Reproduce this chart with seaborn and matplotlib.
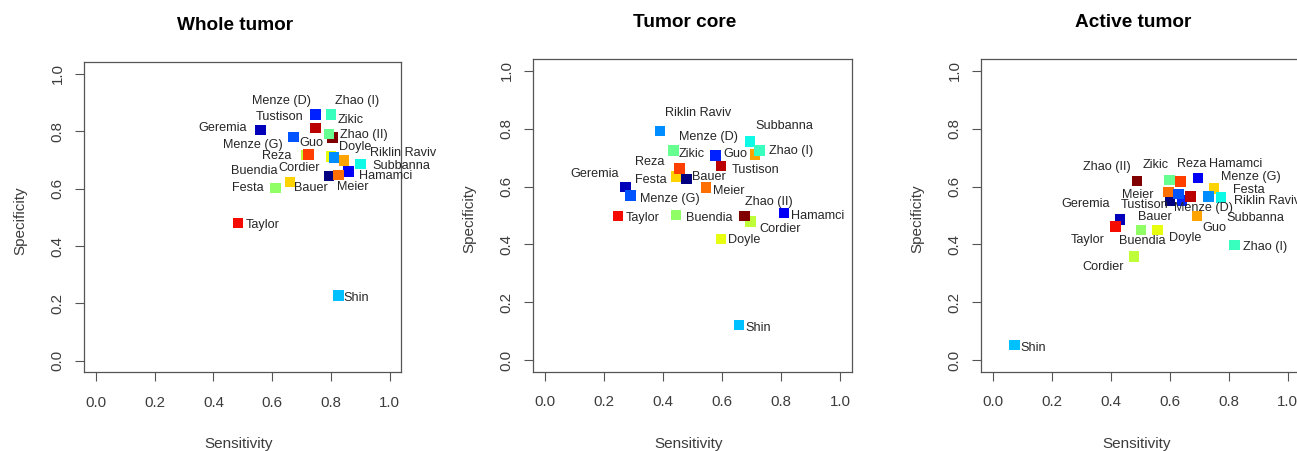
import matplotlib
matplotlib.use("Agg")
import matplotlib.pyplot as plt
import seaborn as sns
import pandas as pd

# ---------------- data ----------------
participants = ["Bauer", "Buendia", "Cordier", "Doyle", "Festa", "Geremia", "Guo",
                "Hamamci", "Meier", "Menze (D)", "Menze (G)", "Reza", "Riklin Raviv",
                "Shin", "Subbanna", "Taylor", "Tustison", "Zhao (I)", "Zhao (II)", "Zikic"]

# order of participants along the jet colour ramp
colour_order = ["Bauer", "Geremia", "Hamamci", "Menze (D)", "Menze (G)", "Riklin Raviv",
                "Shin", "Subbanna", "Zhao (I)", "Zikic", "Buendia", "Cordier", "Doyle",
                "Festa", "Guo", "Meier", "Reza", "Taylor", "Tustison", "Zhao (II)"]

titles = ["Whole tumor", "Tumor core", "Active tumor"]

whole_sens = [0.794, 0.611, 0.716, 0.801, 0.661, 0.561, 0.845, 0.860, 0.827, 0.747,
              0.672, 0.724, 0.810, 0.827, 0.901, 0.483, 0.747, 0.800, 0.806, 0.794]
whole_spec = [0.644, 0.602, 0.717, 0.712, 0.623, 0.804, 0.699, 0.659, 0.647, 0.859,
              0.780, 0.720, 0.709, 0.228, 0.686, 0.481, 0.811, 0.859, 0.778, 0.790]

core_sens = [0.480, 0.444, 0.697, 0.596, 0.444, 0.272, 0.712, 0.810, 0.546, 0.577,
             0.290, 0.455, 0.390, 0.658, 0.695, 0.247, 0.596, 0.727, 0.676, 0.435]
core_spec = [0.626, 0.502, 0.479, 0.419, 0.634, 0.598, 0.712, 0.508, 0.596, 0.708,
             0.569, 0.663, 0.793, 0.121, 0.755, 0.498, 0.671, 0.724, 0.498, 0.724]

active_sens = [0.601, 0.502, 0.479, 0.559, 0.750, 0.432, 0.692, 0.696, 0.596, 0.641,
               0.630, 0.636, 0.731, 0.073, 0.774, 0.417, 0.671, 0.819, 0.489, 0.600]
active_spec = [0.551, 0.450, 0.358, 0.450, 0.594, 0.487, 0.498, 0.629, 0.582, 0.551,
               0.574, 0.617, 0.565, 0.052, 0.563, 0.461, 0.565, 0.398, 0.620, 0.623]

tick_values = [0.0, 0.2, 0.4, 0.6, 0.8, 1.0]
tick_labels = ["0.0", "0.2", "0.4", "0.6", "0.8", "1.0"]

# ---------------- layout (label offsets in pixels, y down) ----------------
label_offsets = [
    {"Bauer": (-18.1, 12.1), "Buendia": (-21.1, -17), "Cordier": (-6.7, 13.3),
     "Doyle": (24.5, -10), "Festa": (-41.8, 6.3), "Geremia": (-38.2, -2),
     "Guo": (-33, -17.6), "Hamamci": (37.2, 4), "Meier": (13.8, 12),
     "Menze (D)": (-33.3, -13.3), "Menze (G)": (-40.5, 8.3), "Reza": (-31.5, 1.7),
     "Riklin Raviv": (69.5, -4.6), "Shin": (17.5, 2.4), "Subbanna": (41, 2),
     "Taylor": (24.8, 2.3), "Tustison": (-35.8, -11), "Zhao (I)": (26.7, -13.7),
     "Zhao (II)": (31, -2.7), "Zikic": (21.7, -14.3)},
    {"Bauer": (22.3, -2.3), "Buendia": (33, 3.3), "Cordier": (29.6, 7.3),
     "Doyle": (23.3, 1), "Festa": (-25.2, 3.3), "Geremia": (-30.5, -13.6),
     "Guo": (-19.3, -0.6), "Hamamci": (34, 2.7), "Meier": (22.5, 3),
     "Menze (D)": (-6.5, -18), "Menze (G)": (39.5, 3.3), "Reza": (-30, -6.3),
     "Riklin Raviv": (38.5, -17.4), "Shin": (18.8, 3.3), "Subbanna": (34.7, -16),
     "Taylor": (25, 2.3), "Tustison": (34.5, 4), "Zhao (I)": (31.2, 0.3),
     "Zhao (II)": (24.2, -13.7), "Zikic": (18.5, 3)},
    {"Bauer": (-15.3, 16), "Buendia": (1.3, 10.7), "Cordier": (-30.8, 10.6),
     "Doyle": (27.1, 8.3), "Festa": (34.9, 1.4), "Geremia": (-35, -15),
     "Guo": (18, 12.3), "Hamamci": (37.9, -14.7), "Meier": (-30.5, 3),
     "Menze (D)": (21.3, 7), "Menze (G)": (72.5, -17.3), "Reza": (11, -17.3),
     "Riklin Raviv": (58.5, 4.4), "Shin": (19, 3.3), "Subbanna": (34, 21),
     "Taylor": (-28.5, 13.3), "Tustison": (-45.8, 8.4), "Zhao (I)": (31, 1.7),
     "Zhao (II)": (-30.5, -14), "Zikic": (-14, -15)},
]

W, H = 1297, 451
# axes boxes in pixels: left, top, right, bottom
boxes = [(84.3, 62.4, 401.3, 372.3), (533.2, 59.4, 851.8, 371.6), (980.9, 59.4, 1299.5, 371.6)]

sns.set_style("white")
plt.rcParams["font.family"] = ["Liberation Sans", "DejaVu Sans"]

jet_cmap = matplotlib.colormaps["jet"]
n_col = len(colour_order)
palette = {name: jet_cmap(i / (n_col - 1)) for i, name in enumerate(colour_order)}

fig = plt.figure(figsize=(W / 100, H / 100), dpi=100)

panels = [(whole_sens, whole_spec), (core_sens, core_spec), (active_sens, active_spec)]

for k, ((sens, spec), title, box, offs) in enumerate(zip(panels, titles, boxes, label_offsets)):
    l, t, r, b = box
    ax = fig.add_axes([l / W, (H - b) / H, (r - l) / W, (b - t) / H])
    wpx, hpx = r - l, b - t
    df = pd.DataFrame({"Sensitivity": sens, "Specificity": spec, "Participant": participants})
    sns.scatterplot(data=df, x="Sensitivity", y="Specificity", hue="Participant",
                    hue_order=participants, palette=palette, marker="s", s=58,
                    linewidth=0, legend=False, ax=ax, zorder=3)
    for name, xv, yv in zip(participants, sens, spec):
        dx, dy = offs[name]
        ax.annotate(name, (xv, yv), xytext=(dx * 0.72, -dy * 0.72),
                    textcoords="offset points", ha="center", va="center",
                    fontsize=9.1, color="#262626", annotation_clip=False, zorder=5)
    ax.set_xlim(-0.04, 1.04)
    ax.set_ylim(-0.04, 1.04)
    ax.set_xticks(tick_values)
    ax.set_xticklabels(tick_labels)
    ax.set_yticks(tick_values)
    ax.set_yticklabels(tick_labels, rotation=90, va="center")
    ax.tick_params(axis="both", direction="out", length=6.5, width=0.8, color="#555555",
                   labelsize=10.8, labelcolor="#3c3c3c", bottom=True, left=True)
    ax.tick_params(axis="x", pad=10.5)
    ax.tick_params(axis="y", pad=7.5)
    for sp in ax.spines.values():
        sp.set_color("#555555")
        sp.set_linewidth(0.9)
        sp.set_visible(True)
    ax.set_xlabel("Sensitivity", fontsize=11, color="#3c3c3c")
    ax.set_ylabel("Specificity", fontsize=11, color="#3c3c3c")
    ax.xaxis.set_label_coords(0.5 - 4 / wpx, -72 / hpx)
    ax.xaxis.label.set_va("center")
    ax.yaxis.set_label_coords(-64 / wpx, 0.5 - 3.5 / hpx)
    ax.yaxis.label.set_va("center")
    ax.text(0.5 - 7.5 / wpx, 1 + 36.5 / hpx, title, transform=ax.transAxes,
            ha="center", va="center", fontsize=13.7, fontweight="bold", color="black")

fig.savefig("out.png", dpi=100)
